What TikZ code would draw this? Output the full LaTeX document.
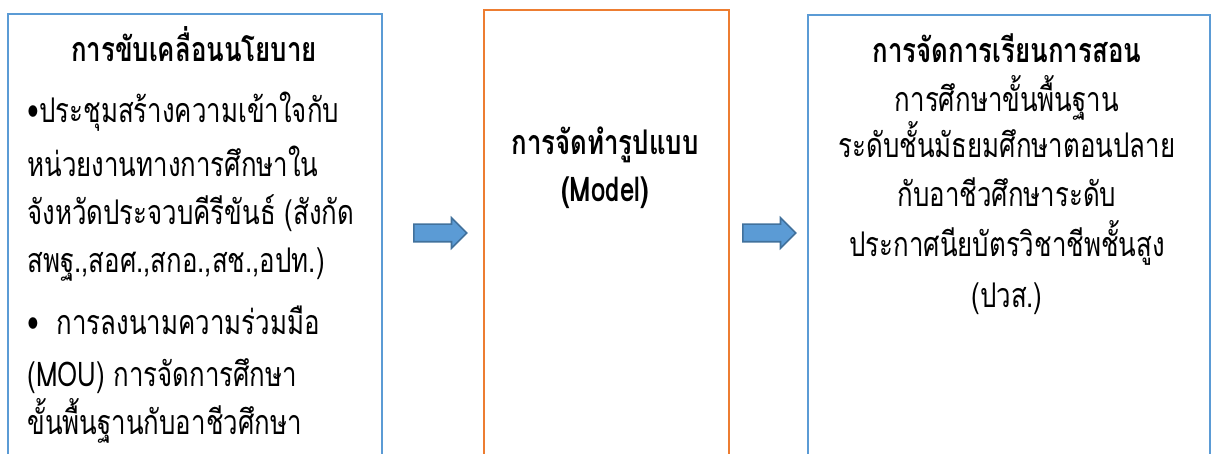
\documentclass[tikz,border=0pt]{standalone}
\usepackage{fontspec}
\newfontfamily\thaifont[Script=Thai, FakeStretch=0.76]{Loma}
\usetikzlibrary{shapes.arrows}
\definecolor{boxblue}{HTML}{5B9BD5}
\definecolor{boxorange}{HTML}{ED7D31}
\definecolor{arrowline}{HTML}{41719C}
\tikzset{
	thaitext/.style={font=\thaifont\fontsize{17}{19}\selectfont, inner sep=0pt},
	thaibold/.style={font=\thaifont\bfseries\fontsize{17}{19}\selectfont, inner sep=0pt},
	stagebox/.style={draw, line width=1.2pt, inner sep=0pt},
	flowarrow/.style={single arrow, draw=arrowline, fill=boxblue, line width=0.8pt,
		inner sep=0pt, inner ysep=4pt, single arrow head extend=3.25pt, minimum height=26.5pt}
}
\begin{document}
\begin{tikzpicture}[x=0.5pt, y=-0.5pt]
		%%%%% START %%%%%
		\clip (0, 0) rectangle (1212, 454);
		
		% boxes
		\node[stagebox, draw=boxblue, anchor=north west, minimum width=187pt, minimum height=240pt] (policy) at (7, 13) {};
		\node[stagebox, draw=boxorange, anchor=north west, minimum width=122.5pt, minimum height=240pt] (model) at (483, 9) {};
		\node[stagebox, draw=boxblue, anchor=north west, minimum width=201pt, minimum height=240pt] (teach) at (807, 14) {};
		
		% arrows
		\node[flowarrow, anchor=west] (arrowA) at (413, 233) {};
		\node[flowarrow, anchor=west] (arrowB) at (742, 233) {};
		
		% left box
		\node[thaibold, anchor=base] (policytitle) at (194, 62) {การขับเคลื่อนนโยบาย};
		\node[thaitext, anchor=base west] (pline1) at (27, 123) {•ประชุมสร้างความเข้าใจกับ};
		\node[thaitext, anchor=base west] (pline2) at (27, 177) {หน่วยงานทางการศึกษาใน};
		\node[thaitext, anchor=base west] (pline3) at (27, 225) {จังหวัดประจวบคีรีขันธ์ (สังกัด};
		\node[thaitext, anchor=base west] (pline4) at (27, 273) {สพฐ.,สอศ.,สกอ.,สช.,อปท.)};
		\node[thaitext, anchor=base west] (pline5) at (27, 335) {•\ \ การลงนามความร่วมมือ};
		\node[thaitext, anchor=base west] (pline6) at (27, 387) {(MOU) การจัดการศึกษา};
		\node[thaitext, anchor=base west] (pline7) at (27, 435) {ขั้นพื้นฐานกับอาชีวศึกษา};
		
		% middle box
		\node[thaibold, anchor=base] (modeltitle) at (605, 155) {การจัดทำรูปแบบ};
		\node[thaibold, anchor=base] (modelsub) at (605, 202) {(Model)};
		
		% right box
		\node[thaibold, anchor=base] (teachtitle) at (1007, 63) {การจัดการเรียนการสอน};
		\node[thaitext, anchor=base] (tline1) at (1007, 112) {การศึกษาขั้นพื้นฐาน};
		\node[thaitext, anchor=base] (tline2) at (1007, 158) {ระดับชั้นมัธยมศึกษาตอนปลาย};
		\node[thaitext, anchor=base] (tline3) at (1007, 207) {กับอาชีวศึกษาระดับ};
		\node[thaitext, anchor=base] (tline4) at (1007, 257) {ประกาศนียบัตรวิชาชีพชั้นสูง};
		\node[thaitext, anchor=base] (tline5) at (1007, 308) {(ปวส.)};
		%%%%% END %%%%%
	\end{tikzpicture}
\end{document}
